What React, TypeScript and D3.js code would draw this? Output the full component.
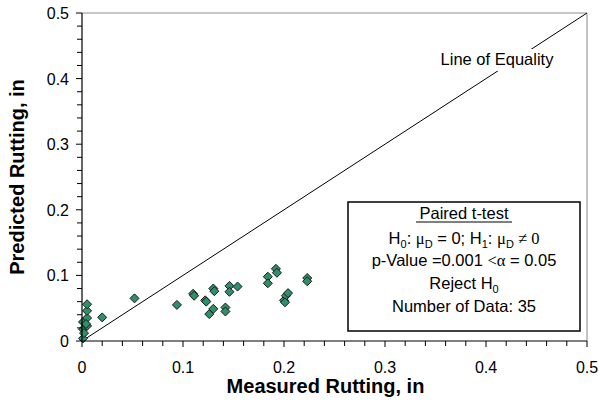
import React from 'react';
import { scaleLinear, range } from 'd3';

// measured vs predicted rutting (in)
const measured = [
  0.001, 0.001, 0.001, 0.005, 0.005, 0.005, 0.005, 0.002, 0.004,
  0.02, 0.052, 0.094, 0.11, 0.111, 0.122, 0.123, 0.126, 0.13, 0.13, 0.131,
  0.142, 0.142, 0.146, 0.146, 0.154,
  0.184, 0.184, 0.192, 0.193, 0.2, 0.202, 0.204, 0.201, 0.223, 0.223,
];
const predicted = [
  0.004, 0.018, 0.029, 0.023, 0.035, 0.046, 0.056, 0.012, 0.026,
  0.036, 0.065, 0.055, 0.072, 0.069, 0.062, 0.06, 0.041, 0.049, 0.08, 0.076,
  0.051, 0.045, 0.084, 0.075, 0.083,
  0.098, 0.088, 0.11, 0.104, 0.062, 0.069, 0.073, 0.059, 0.096, 0.091,
];
const majorTicks = [0, 0.1, 0.2, 0.3, 0.4, 0.5];
const tickLabels = ['0', '0.1', '0.2', '0.3', '0.4', '0.5'];

const width = 599;
const height = 404;
const margin = { left: 82, right: 12, top: 13, bottom: 63 };
const font = '"Liberation Sans", Arial, sans-serif';
const sym = '"Liberation Serif", "Times New Roman", serif';

const App: React.FC = () => {
  const x = scaleLinear().domain([0, 0.5]).range([margin.left, width - margin.right]);
  const y = scaleLinear().domain([0, 0.5]).range([height - margin.bottom, margin.top]);
  const minor = range(0, 26).map((i) => i * 0.02);
  const isMajor = (v: number) => Math.abs(v * 10 - Math.round(v * 10)) < 1e-6;

  const x0 = x(0);
  const y0 = y(0);

  // legend box
  const bx = 348;
  const by = 202;
  const bw = 232;
  const bh = 129;
  const cx = bx + bw / 2;

  const diamond = (px: number, py: number, r: number) =>
    `M${px},${py - r}L${px + r},${py}L${px},${py + r}L${px - r},${py}Z`;

  return (
    <svg
      width={width}
      height={height}
      style={{ position: 'absolute', left: 0, top: 0, background: '#fff' }}
      fontFamily={font}
    >
      {/* frame */}
      <line x1={x0} x2={x(0.5)} y1={y(0.5)} y2={y(0.5)} stroke="#b4b4b4" strokeWidth={1.5} />
      <line x1={x(0.5)} x2={x(0.5)} y1={y(0.5)} y2={y0} stroke="#888" strokeWidth={1} />

      {/* line of equality */}
      <line x1={x(0)} y1={y(0)} x2={x(0.5)} y2={y(0.5)} stroke="#000" strokeWidth={1} />
      <rect x={434} y={49} width={126} height={22} fill="#fff" />
      <text x={497} y={65} fontSize={16.5} textAnchor="middle" fill="#000">
        Line of Equality
      </text>

      {/* legend box */}
      <rect x={bx} y={by} width={bw} height={bh} fill="#fff" stroke="#000" strokeWidth={1.5} />
      <g fontSize={16.5} fill="#000" textAnchor="middle">
        <text x={cx} y={219}>Paired t-test</text>
        <line x1={cx - 48} x2={cx + 48} y1={222} y2={222} stroke="#000" strokeWidth={1} />
        <text x={cx} y={244}>
          H<tspan fontSize={11} dy={4}>0</tspan>
          <tspan dy={-4}>: </tspan>
          <tspan fontFamily={sym}>μ</tspan>
          <tspan fontSize={11} dy={4}>D</tspan>
          <tspan dy={-4}> = 0; H</tspan>
          <tspan fontSize={11} dy={4}>1</tspan>
          <tspan dy={-4}>: </tspan>
          <tspan fontFamily={sym}>μ</tspan>
          <tspan fontSize={11} dy={4}>D</tspan>
          <tspan dy={-4} fontFamily={sym}> ≠ 0</tspan>
        </text>
        <text x={cx} y={266}>
          p-Value =0.001 <tspan fontFamily={sym}>&lt;α</tspan> = 0.05
        </text>
        <text x={cx} y={289}>
          Reject H<tspan fontSize={11} dy={4}>0</tspan>
        </text>
        <text x={cx} y={312}>Number of Data: 35</text>
      </g>

      {/* points */}
      <g>
        {measured.map((m, i) => (
          <path
            key={i}
            d={diamond(x(m), y(predicted[i]), 4.5)}
            fill="#2f8f6a"
            stroke="#1a1a1a"
            strokeWidth={1}
          />
        ))}
      </g>

      {/* axes */}
      <line x1={x0} x2={x(0.5)} y1={y0} y2={y0} stroke="#000" strokeWidth={1.2} />
      <line x1={x0} x2={x0} y1={y0} y2={y(0.5)} stroke="#000" strokeWidth={1.2} />
      {minor.map((v) => (
        <g key={`t${v}`}>
          <line x1={x(v)} x2={x(v)} y1={y0} y2={y0 + (isMajor(v) ? 6 : 5)} stroke="#000" />
          <line x1={x0} x2={x0 - (isMajor(v) ? 6 : 5)} y1={y(v)} y2={y(v)} stroke="#000" />
        </g>
      ))}
      <g fontSize={16} fill="#000">
        {majorTicks.map((v, i) => (
          <text key={`xl${v}`} x={x(v)} y={y0 + 32} textAnchor="middle">
            {tickLabels[i]}
          </text>
        ))}
        {majorTicks.map((v, i) => (
          <text key={`yl${v}`} x={x0 - 13} y={y(v) + 6} textAnchor="end">
            {tickLabels[i]}
          </text>
        ))}
      </g>

      {/* titles */}
      <text
        x={(x0 + x(0.5)) / 2 - 9}
        y={393}
        fontSize={20}
        fontWeight="bold"
        textAnchor="middle"
      >
        Measured Rutting, in
      </text>
      <text
        transform={`translate(24, ${(y0 + y(0.5)) / 2}) rotate(-90)`}
        fontSize={20}
        fontWeight="bold"
        textAnchor="middle"
      >
        Predicted Rutting, in
      </text>
    </svg>
  );
};

export default App;
